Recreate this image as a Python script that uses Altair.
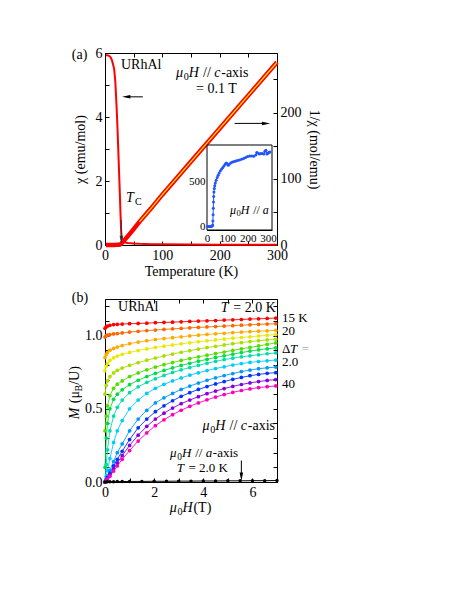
import altair as alt
import pandas as pd

FONT = "Liberation Serif"

# ---------------- panel (a) data ----------------
chi_T = [1.8, 4, 6, 8, 10, 12, 14, 16, 18, 20, 21, 22, 23, 24, 25, 26, 27, 28, 29, 30,
         32, 35, 40, 50, 60, 80, 100, 150, 200, 250, 300]
chi_val = [5.93, 5.93, 5.92, 5.9, 5.86, 5.78, 5.65, 5.5, 5.1, 4.4, 4.0, 3.55, 3.05, 2.55, 2.05, 1.55, 1.0, 0.5, 0.22, 0.14,
           0.1, 0.08, 0.06, 0.045, 0.036, 0.027, 0.022, 0.015, 0.011, 0.009, 0.008]

inv_T = [1.8, 5, 10, 15, 20, 24, 26, 28, 30, 32, 35, 40, 50, 60, 80, 100, 120, 150, 180, 200,
         220, 250, 280, 300]
inv_val = [0.17, 0.17, 0.17, 0.18, 0.23, 0.38, 0.65, 1.8, 3.5, 5.5, 8.5, 13.5, 24, 35, 55, 76, 96, 126, 156, 176,
           196, 226, 256, 276]

inset_T = [3, 6, 10, 14, 18, 22, 26, 28, 29, 30, 31, 32, 33, 34, 36, 38, 41, 45, 50, 55,
           60, 66, 72, 78, 84, 90, 95, 100, 105, 110, 118, 126, 134, 142, 150, 160, 170, 180, 190, 200,
           210, 220, 230, 240, 245, 250, 258, 265, 272, 280, 285, 290, 295, 300, 305, 310]
inset_M = [0, 0, 0, 0, 0, 2, 5, 15, 60, 130, 200, 270, 330, 380, 420, 450, 480, 510, 540, 565,
           590, 615, 635, 650, 670, 690, 700, 690, 675, 690, 705, 712, 718, 722, 728, 735, 742, 750, 762, 772,
           778, 778, 775, 790, 818, 812, 800, 805, 806, 800, 830, 842, 800, 810, 820, 822]

# ---------------- panel (b) data ----------------
H = [0, 0.05, 0.1, 0.2, 0.35, 0.5, 0.7, 1.0, 1.35, 1.7, 2.05, 2.4, 2.75, 3.1, 3.45, 3.8, 4.15, 4.5, 4.85,
     5.2, 5.55, 5.9, 6.25, 6.6, 6.95]
m_red = [1.05, 1.06, 1.065, 1.07, 1.075, 1.077, 1.079, 1.081, 1.083, 1.085, 1.088, 1.09, 1.092, 1.094, 1.097,
         1.099, 1.101, 1.103, 1.106, 1.108, 1.11, 1.113, 1.115, 1.117, 1.12]
m_orange = [0.99, 1.0, 1.003, 1.007, 1.011, 1.014, 1.018, 1.024, 1.029, 1.034, 1.038, 1.042, 1.046, 1.049, 1.053,
            1.056, 1.059, 1.062, 1.065, 1.068, 1.071, 1.074, 1.077, 1.079, 1.081]
m_amber = [0.85, 0.87, 0.885, 0.9, 0.912, 0.922, 0.932, 0.945, 0.956, 0.965, 0.973, 0.98, 0.986, 0.992, 0.998,
           1.003, 1.008, 1.012, 1.016, 1.02, 1.024, 1.027, 1.03, 1.033, 1.036]
m_yellow = [0.76, 0.79, 0.81, 0.83, 0.848, 0.86, 0.872, 0.885, 0.898, 0.909, 0.919, 0.928, 0.936, 0.944, 0.951,
            0.958, 0.964, 0.97, 0.976, 0.982, 0.987, 0.992, 0.997, 1.002, 1.007]
m_lime = [0.6, 0.66, 0.69, 0.72, 0.745, 0.762, 0.778, 0.797, 0.815, 0.832, 0.847, 0.861, 0.874, 0.886, 0.897,
          0.908, 0.918, 0.927, 0.936, 0.945, 0.952, 0.959, 0.965, 0.97, 0.975]
m_green = [0.35, 0.45, 0.52, 0.59, 0.64, 0.668, 0.69, 0.72, 0.745, 0.766, 0.785, 0.801, 0.816, 0.83, 0.843,
           0.855, 0.866, 0.877, 0.888, 0.899, 0.909, 0.919, 0.929, 0.94, 0.95]
m_green2 = [0.1, 0.3, 0.4, 0.5, 0.565, 0.6, 0.63, 0.665, 0.695, 0.72, 0.742, 0.762, 0.78, 0.796, 0.811,
            0.825, 0.838, 0.851, 0.862, 0.873, 0.884, 0.894, 0.903, 0.91, 0.916]
m_teal = [0.0, 0.12, 0.22, 0.35, 0.45, 0.51, 0.56, 0.61, 0.65, 0.68, 0.705, 0.728, 0.748, 0.766, 0.782,
          0.797, 0.811, 0.824, 0.836, 0.846, 0.855, 0.862, 0.869, 0.876, 0.882]
m_cyan = [0.0, 0.04, 0.08, 0.16, 0.27, 0.35, 0.42, 0.5, 0.56, 0.605, 0.64, 0.667, 0.69, 0.711, 0.73,
          0.746, 0.761, 0.775, 0.787, 0.799, 0.809, 0.817, 0.823, 0.828, 0.833]
m_sky = [0.0, 0.02, 0.04, 0.08, 0.14, 0.2, 0.26, 0.35, 0.43, 0.49, 0.54, 0.575, 0.605, 0.632, 0.655,
         0.676, 0.695, 0.712, 0.727, 0.741, 0.754, 0.765, 0.774, 0.78, 0.785]
m_blue = [0.0, 0.015, 0.03, 0.06, 0.11, 0.155, 0.21, 0.29, 0.37, 0.43, 0.48, 0.52, 0.555, 0.585, 0.61,
          0.632, 0.652, 0.67, 0.686, 0.701, 0.714, 0.726, 0.735, 0.742, 0.747]
m_purple = [0.0, 0.01, 0.025, 0.05, 0.09, 0.13, 0.18, 0.25, 0.32, 0.38, 0.43, 0.47, 0.505, 0.535, 0.56,
            0.583, 0.603, 0.621, 0.638, 0.653, 0.666, 0.677, 0.686, 0.694, 0.70]
m_magenta = [0.0, 0.008, 0.02, 0.04, 0.075, 0.11, 0.155, 0.215, 0.28, 0.335, 0.385, 0.425, 0.46, 0.49, 0.517,
             0.54, 0.561, 0.58, 0.597, 0.612, 0.625, 0.636, 0.645, 0.651, 0.656]
curve_names = ["red", "orange", "amber", "yellow", "lime", "green", "green2", "teal", "cyan", "sky",
               "blue", "purple", "magenta"]
curve_values = [m_red, m_orange, m_amber, m_yellow, m_lime, m_green, m_green2, m_teal, m_cyan, m_sky,
                m_blue, m_purple, m_magenta]
curve_colors = ["#ff0000", "#ff6600", "#ffaa00", "#e8e800", "#aadd00", "#55dd00", "#00dd44", "#00ddaa",
                "#00ccff", "#0099ff", "#0033ff", "#8800dd", "#ff00bb"]

a_H = [0, 0.1, 0.2, 0.35, 0.5, 0.7, 1.0, 1.5, 2.0, 2.5, 3.0, 3.5, 4.0, 4.5, 5.0, 5.5, 6.0, 6.5, 7.0]
a_M = [0, 0.001, 0.002, 0.002, 0.003, 0.003, 0.004, 0.004, 0.005, 0.005, 0.006, 0.006, 0.007, 0.007,
       0.008, 0.008, 0.009, 0.009, 0.01]

# tick values / labels
T_ticks = [0, 50, 100, 150, 200, 250, 300]
T_labels = [0, 100, 200, 300]
chi_ticks = [0, 1, 2, 3, 4, 5, 6]
chi_labels = [0, 2, 4, 6]
inv_ticks = [0, 50, 100, 150, 200, 250]
inv_labels = [0, 100, 200]
inset_x_ticks = [0, 50, 100, 150, 200, 250, 300]
inset_x_labels = [0, 100, 200, 300]
inset_y_ticks = [0, 250, 500, 750]
inset_y_labels = [0, 500]
H_ticks = [0, 1, 2, 3, 4, 5, 6, 7]
H_labels = [0, 2, 4, 6]
M_ticks = [0, 0.1, 0.2, 0.3, 0.4, 0.5, 0.6, 0.7, 0.8, 0.9, 1.0, 1.1, 1.2]
M_labels = [0, 0.5, 1.0]

# ---------------- helpers ----------------
CW = {' ': .25, '(': .333, ')': .333, '-': .333, '.': .25, '/': .278, '=': .564, 'A': .722, 'B': .667,
      'C': .667, 'H': .722, 'K': .722, 'M': .85, 'R': .667, 'T': .6, 'U': .722, 'a': .5, 'b': .5,
      'c': .444, 'e': .444, 'h': .5, 'i': .278, 'l': .278, 'm': .778, 'o': .5, 'r': .333, 's': .389,
      'u': .5, 'x': .5, 'μ': .5, 'Δ': .62, 'χ': .55}


def tw(s, fs):
    return sum(CW.get(ch, 0.5) for ch in s) * fs


def axis(orient, values, shown=None, fmt=None, labels=True, size=14, offset=None, title=None,
         tpad=4, lpad=7, tick=4):
    kw = dict(orient=orient, values=values, grid=False, labels=labels, domainColor="black",
              tickColor="black", tickWidth=1, domainWidth=1, tickSize={"expr": str(-tick)},
              labelFont=FONT, labelFontSize=size, labelColor="black", labelFlush=False,
              labelOverlap=False, labelPadding=lpad, titlePadding=tpad)
    if title is not None:
        kw.update(title=title, titleFont=FONT, titleFontSize=14, titleFontWeight="normal", titleColor="black")
    else:
        kw["title"] = None
    if shown is not None:
        kw["labelExpr"] = "indexof(%s, datum.value) >= 0 ? datum.label : ''" % str(shown)
    if fmt is not None:
        kw["format"] = fmt
    if offset is not None:
        kw["offset"] = offset
    return alt.Axis(**kw)


def rich(pieces, x, y, xs, ys, size=14, align="left", angle=0, color="black"):
    """pieces: list of (text, style); style has 'i' italic, 'sub' subscript, 'g' gray.
    Spaces are turned into offsets so that nothing depends on whitespace rendering."""
    items = []
    for txt, st in pieces:
        fs = size * 0.72 if "sub" in st else size
        lead = len(txt) - len(txt.lstrip(" "))
        trail = len(txt) - len(txt.rstrip(" "))
        core = txt.strip(" ")
        extra = 0.05 * fs if "i" in st else 0
        items.append((core, st, fs, lead * 0.25 * size, tw(core, fs) + extra, trail * 0.25 * size))
    total = sum(a + b + c for _, _, _, a, b, c in items)
    off = {"left": 0, "center": -total / 2, "right": -total}[align]
    df = pd.DataFrame({"x": [x], "y": [y]})
    out = []
    for core, st, fs, lead, w, trail in items:
        off += lead
        out.append(
            alt.Chart(df).mark_text(
                text=core, align="left", baseline="middle", dx=off,
                dy=size * 0.3 if "sub" in st else 0, angle=angle, font=FONT, fontSize=fs,
                fontStyle="italic" if "i" in st else "normal",
                color="#aaaaaa" if "g" in st else color,
            ).encode(x=alt.X("x:Q", scale=xs, axis=None), y=alt.Y("y:Q", scale=ys, axis=None))
        )
        off += w + trail
    return out


def arrow(x0, x1, y0, y1, xs, ys, shape, color="black"):
    df = pd.DataFrame({"x0": [x0], "x1": [x1], "y0": [y0], "y1": [y1]})
    line = alt.Chart(df).mark_rule(color=color, strokeWidth=1).encode(
        x=alt.X("x0:Q", scale=xs, axis=None), x2="x1",
        y=alt.Y("y0:Q", scale=ys, axis=None), y2="y1")
    head = alt.Chart(df).mark_point(shape=shape, filled=True, size=70, color=color, opacity=1).encode(
        x=alt.X("x1:Q", scale=xs, axis=None), y=alt.Y("y1:Q", scale=ys, axis=None))
    return [line, head]


LEFT = "M-1,0L1,-0.42L1,0.42Z"
RIGHT = "M1,0L-1,-0.42L-1,0.42Z"
DOWN = "M0,1L-0.42,-1L0.42,-1Z"

# ---------------- panel (a) ----------------
W_A, H_A = 172, 192
XT = alt.Scale(domain=[0, 300], nice=False, zero=False)
YC = alt.Scale(domain=[0, 6], nice=False)
YI = alt.Scale(domain=[0, 290], nice=False)

chi_df = pd.DataFrame({"T": chi_T, "chi": chi_val})
inv_df = pd.DataFrame({"T": inv_T, "inv": inv_val})

chi_line = alt.Chart(chi_df).mark_line(color="#ff0000", strokeWidth=2).encode(
    x=alt.X("T:Q", scale=XT, axis=axis("bottom", T_ticks, T_labels, title="Temperature (K)", tpad=2)),
    y=alt.Y("chi:Q", scale=YC, axis=axis("left", chi_ticks, chi_labels, title="χ (emu/mol)", tpad=8)),
)
inv_red = alt.Chart(inv_df).mark_line(color="#ff0000", strokeWidth=4.5).encode(
    x=alt.X("T:Q", scale=XT, axis=axis("top", T_ticks, labels=False)),
    y=alt.Y("inv:Q", scale=YI, axis=axis("right", inv_ticks, inv_labels, title="1/χ (mol/emu)", tpad=5)),
)
inv_yel = alt.Chart(inv_df[inv_df["T"] >= 60]).mark_line(color="#ffee00", strokeWidth=1.2).encode(
    x=alt.X("T:Q", scale=XT, axis=None), y=alt.Y("inv:Q", scale=YI, axis=None))

a_ann = []
a_ann += rich([("(a)", "")], -43.6, 5.94, XT, YC, align="center")
a_ann += rich([("URhAl", "")], 27.9, 5.63, XT, YC)
a_ann += rich([("μ", "i"), ("0", "sub"), ("H", "i"), (" // ", ""), ("c", "i"), ("-axis", "")], 123.8, 5.38, XT, YC)
a_ann += rich([("= 0.1 T", "")], 158.7, 4.88, XT, YC)
a_ann += rich([("T", "i"), ("C", "sub")], 36.6, 1.47, XT, YC)
a_ann += arrow(66, 37, 4.63, 4.63, XT, YC, LEFT)
a_ann += arrow(226, 281, 3.8, 3.8, XT, YC, RIGHT)
a_ann += arrow(28.5, 28.5, 0.78, 0.16, XT, YC, DOWN, color="#333333")

INSET_X_DOM = [0, 320]
INSET_Y_DOM = [-40, 900]
XI = alt.Scale(domain=INSET_X_DOM, range=[102, 167], nice=False, zero=False)
YN = alt.Scale(domain=INSET_Y_DOM, range=[177, 92], nice=False, zero=False)
frame_df = pd.DataFrame({"x0": [INSET_X_DOM[0]], "x1": [INSET_X_DOM[1]],
                         "y0": [INSET_Y_DOM[0]], "y1": [INSET_Y_DOM[1]]})
inset_frame = alt.Chart(frame_df).mark_rect(fill="white", stroke="black", strokeWidth=1).encode(
    x=alt.X("x0:Q", scale=XI, axis=axis("bottom", inset_x_ticks, inset_x_labels, size=11, offset=-15, lpad=5, tick=3)),
    x2="x1",
    y=alt.Y("y0:Q", scale=YN, axis=axis("left", inset_y_ticks, inset_y_labels, size=11, offset=-102, lpad=5, tick=3)),
    y2="y1",
)
inset_df = pd.DataFrame({"T": inset_T, "M": inset_M})
inset_line = alt.Chart(inset_df).mark_line(color="#2255ff", strokeWidth=1).encode(
    x=alt.X("T:Q", scale=XI, axis=None), y=alt.Y("M:Q", scale=YN, axis=None))
inset_pts = alt.Chart(inset_df).mark_circle(color="#2255ff", size=9, opacity=1).encode(
    x=alt.X("T:Q", scale=XI, axis=None), y=alt.Y("M:Q", scale=YN, axis=None))
inset_txt = rich([("μ", "i"), ("0", "sub"), ("H", "i"), (" // ", ""), ("a", "i")], 113, 185, XI, YN, size=12)

top = alt.layer(
    chi_line, inv_red, inv_yel, *a_ann, inset_frame, inset_line, inset_pts, *inset_txt
).resolve_scale(x="independent", y="independent").properties(width=W_A, height=H_A)

# ---------------- panel (b) ----------------
W_B, H_B = 172, 183
XB = alt.Scale(domain=[0, 7], nice=False, zero=False)
YB = alt.Scale(domain=[0, 1.25], nice=False, zero=False)

rows = []
for name, vals in zip(curve_names, curve_values):
    for h, m in zip(H, vals):
        rows.append({"H": h, "M": m, "curve": name})
mh_df = pd.DataFrame(rows)
cscale = alt.Scale(domain=curve_names, range=curve_colors)

mh_lines = alt.Chart(mh_df).mark_line(strokeWidth=0.9).encode(
    x=alt.X("H:Q", scale=XB, axis=axis("bottom", H_ticks, H_labels)),
    y=alt.Y("M:Q", scale=YB, axis=axis("left", M_ticks, M_labels, fmt=".1f", lpad=7)),
    color=alt.Color("curve:N", scale=cscale, legend=None),
)
mh_pts = alt.Chart(mh_df).mark_circle(size=14, opacity=1).encode(
    x=alt.X("H:Q", scale=XB, axis=None), y=alt.Y("M:Q", scale=YB, axis=None),
    color=alt.Color("curve:N", scale=cscale, legend=None),
)
a_df = pd.DataFrame({"H": a_H, "M": a_M})
a_line = alt.Chart(a_df).mark_line(color="black", strokeWidth=1).encode(
    x=alt.X("H:Q", scale=XB, axis=axis("top", H_ticks, labels=False)),
    y=alt.Y("M:Q", scale=YB, axis=axis("right", M_ticks, labels=False)),
)
a_pts = alt.Chart(a_df).mark_circle(color="black", size=12, opacity=1).encode(
    x=alt.X("H:Q", scale=XB, axis=None), y=alt.Y("M:Q", scale=YB, axis=None))

b_ann = []
b_ann += rich([("(b)", "")], -1.02, 1.26, XB, YB, align="center")
b_ann += rich([("URhAl", "")], 0.53, 1.198, XB, YB)
b_ann += rich([("T", "i"), (" = 2.0 K", "")], 6.95, 1.188, XB, YB, align="right")
b_ann += rich([("15 K", "")], 7.2, 1.119, XB, YB, size=13)
b_ann += rich([("20", "")], 7.2, 1.029, XB, YB, size=13)
b_ann += rich([("Δ", ""), ("T", "i"), (" =", "g")], 7.2, 0.907, XB, YB, size=13)
b_ann += rich([("2.0", "")], 7.2, 0.822, XB, YB, size=13)
b_ann += rich([("40", "")], 7.2, 0.67, XB, YB, size=13)
b_ann += rich([("μ", "i"), ("0", "sub"), ("H", "i"), (" // ", ""), ("c", "i"), ("-axis", "")], 6.95, 0.385, XB, YB,
              align="right")
b_ann += rich([("μ", "i"), ("0", "sub"), ("H", "i"), (" // ", ""), ("a", "i"), ("-axis", "")], 2.65, 0.2, XB, YB,
              size=13)
b_ann += rich([("T", "i"), (" = 2.0 K", "")], 2.92, 0.095, XB, YB, size=13)
b_ann += arrow(5.55, 5.55, 0.147, 0.036, XB, YB, DOWN)
b_ann += rich([("M", "i"), (" (", ""), ("μ", ""), ("B", "sub"), ("/U)", "")], -1.24, 0.61, XB, YB,
              align="center", angle=270)
b_ann += rich([("μ", "i"), ("0", "sub"), ("H", "i"), ("(T)", "")], 3.48, -0.175, XB, YB, align="center")

bottom = alt.layer(mh_lines, mh_pts, a_line, a_pts, *b_ann).resolve_scale(
    x="independent", y="independent").properties(width=W_B, height=H_B)

chart = alt.vconcat(top, bottom, spacing=12).properties(
    padding={"left": 59, "top": 38, "right": 5, "bottom": 5}
).configure_view(stroke=None)

chart.save("out.html", embed_options={"renderer": "svg", "actions": False})
